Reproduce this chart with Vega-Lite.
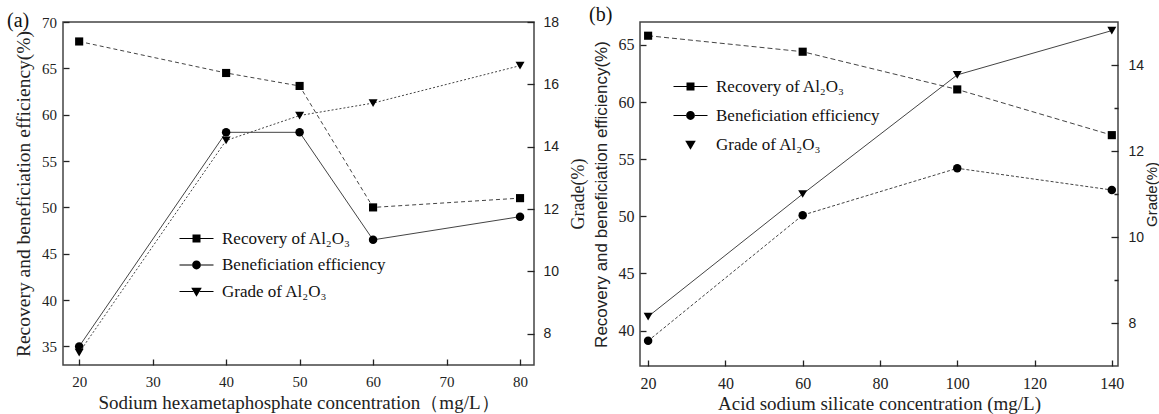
{
  "$schema": "https://vega.github.io/schema/vega-lite/v6.json",
  "padding": {"left": 6, "top": 4, "right": 0, "bottom": 0},
  "bounds": "flush",
  "spacing": 106,
  "config": {
    "font": "Liberation Serif",
    "view": {"stroke": "#444", "strokeWidth": 1.5},
    "axis": {"grid": false, "domain": false, "labelFont": "Liberation Serif", "labelColor": "#222", "titleFont": "Liberation Serif", "titleFontWeight": "normal", "titleColor": "#222", "tickColor": "#222", "tickWidth": 1.3, "labelOverlap": false, "labelFlush": false}
  },
  "resolve": {"scale": {"shape": "independent"}, "legend": {"shape": "independent"}},
  "hconcat": [
    {
      "width": 471, "height": 343,
      "title": {"text": "(a)", "anchor": "start", "frame": "group", "font": "Liberation Serif", "fontSize": 20, "fontWeight": "normal", "color": "#111", "dx": -56, "dy": 16, "offset": 0},
      "data": {"values": [
        {"conc": 20, "series": "Recovery of Al₂O₃", "value": 67.9},
        {"conc": 40, "series": "Recovery of Al₂O₃", "value": 64.5},
        {"conc": 50, "series": "Recovery of Al₂O₃", "value": 63.1},
        {"conc": 60, "series": "Recovery of Al₂O₃", "value": 50.0},
        {"conc": 80, "series": "Recovery of Al₂O₃", "value": 51.0},
        {"conc": 20, "series": "Beneficiation efficiency", "value": 35.0},
        {"conc": 40, "series": "Beneficiation efficiency", "value": 58.1},
        {"conc": 50, "series": "Beneficiation efficiency", "value": 58.1},
        {"conc": 60, "series": "Beneficiation efficiency", "value": 46.5},
        {"conc": 80, "series": "Beneficiation efficiency", "value": 49.0},
        {"conc": 20, "series": "Grade of Al₂O₃", "value": 7.4},
        {"conc": 40, "series": "Grade of Al₂O₃", "value": 14.2},
        {"conc": 50, "series": "Grade of Al₂O₃", "value": 15.0},
        {"conc": 60, "series": "Grade of Al₂O₃", "value": 15.4},
        {"conc": 80, "series": "Grade of Al₂O₃", "value": 16.6}
      ]},
      "resolve": {"scale": {"y": "independent"}},
      "layer": [
        {
          "layer": [
            {
              "transform": [{"filter": "datum.series === 'Recovery of Al₂O₃'"}],
              "mark": {"type": "line", "stroke": "#444", "strokeWidth": 1, "strokeDash": [4, 3]},
              "encoding": {
                "x": {"field": "conc", "type": "quantitative", "title": "Sodium hexametaphosphate concentration（mg/L）", "scale": {"domain": [17.8, 81.9], "nice": false, "zero": false},
                  "axis": {"values": [20, 25, 30, 35, 40, 45, 50, 55, 60, 65, 70, 75, 80], "labelExpr": "datum.value % 10 === 0 ? datum.label : ''", "offset": -6, "tickSize": 6, "tickDash": {"condition": {"test": "datum.value % 10 !== 0", "value": [0, 2, 4]}, "value": [10, 0]}, "labelPadding": 9, "labelFont": "Liberation Serif", "labelFontSize": 15, "titleFont": "Liberation Serif", "titleFontSize": 19, "titlePadding": 4}},
                "y": {"field": "value", "type": "quantitative", "title": "Recovery and beneficiation efficiency(%)", "scale": {"domain": [33, 70], "nice": false, "zero": false},
                  "axis": {"orient": "left", "values": [35, 37.5, 40, 42.5, 45, 47.5, 50, 52.5, 55, 57.5, 60, 62.5, 65, 67.5, 70], "labelExpr": "datum.value % 5 === 0 ? datum.label : ''", "offset": -6, "tickSize": 6, "tickDash": {"condition": {"test": "datum.value % 5 !== 0", "value": [0, 2, 4]}, "value": [10, 0]}, "labelPadding": 6.5, "labelFont": "Liberation Serif", "labelFontSize": 15, "titleFont": "Liberation Serif", "titleFontSize": 19.5, "titlePadding": 8}}
              }
            },
            {
              "transform": [{"filter": "datum.series === 'Beneficiation efficiency'"}],
              "mark": {"type": "line", "stroke": "#444", "strokeWidth": 1},
              "encoding": {
                "x": {"field": "conc", "type": "quantitative", "title": "Sodium hexametaphosphate concentration（mg/L）", "scale": {"domain": [17.8, 81.9], "nice": false, "zero": false}},
                "y": {"field": "value", "type": "quantitative", "title": "Recovery and beneficiation efficiency(%)", "scale": {"domain": [33, 70], "nice": false, "zero": false}}
              }
            },
            {
              "transform": [{"filter": "datum.series === 'Recovery of Al₂O₃'"}],
              "mark": {"type": "point", "shape": "square", "filled": true, "fill": "black", "opacity": 1, "size": 66},
              "encoding": {
                "x": {"field": "conc", "type": "quantitative", "title": "Sodium hexametaphosphate concentration（mg/L）", "scale": {"domain": [17.8, 81.9], "nice": false, "zero": false}},
                "y": {"field": "value", "type": "quantitative", "title": "Recovery and beneficiation efficiency(%)", "scale": {"domain": [33, 70], "nice": false, "zero": false}}
              }
            },
            {
              "transform": [{"filter": "datum.series === 'Beneficiation efficiency'"}],
              "mark": {"type": "point", "shape": "circle", "filled": true, "fill": "black", "opacity": 1, "size": 72},
              "encoding": {
                "x": {"field": "conc", "type": "quantitative", "title": "Sodium hexametaphosphate concentration（mg/L）", "scale": {"domain": [17.8, 81.9], "nice": false, "zero": false}},
                "y": {"field": "value", "type": "quantitative", "title": "Recovery and beneficiation efficiency(%)", "scale": {"domain": [33, 70], "nice": false, "zero": false}}
              }
            },
            {
              "transform": [{"filter": "datum.series !== 'Grade of Al₂O₃'"}],
              "mark": {"type": "point", "filled": true, "fill": "black", "opacity": 0, "size": 289},
              "encoding": {
                "x": {"field": "conc", "type": "quantitative", "title": "Sodium hexametaphosphate concentration（mg/L）", "scale": {"domain": [17.8, 81.9], "nice": false, "zero": false}},
                "y": {"field": "value", "type": "quantitative", "title": "Recovery and beneficiation efficiency(%)", "scale": {"domain": [33, 70], "nice": false, "zero": false}},
                "shape": {"field": "series", "type": "nominal",
                  "scale": {"domain": ["Recovery of Al₂O₃", "Beneficiation efficiency", "Grade of Al₂O₃"], "range": ["M-2,-0.06H-0.47V0.06H-2ZM0.47,-0.06H2V0.06H0.47ZM-0.47,-0.47H0.47V0.47H-0.47Z", "M-2,-0.06H-0.5V0.06H-2ZM0.5,-0.06H2V0.06H0.5ZM-0.52,0A0.52,0.52,0,1,0,0.52,0A0.52,0.52,0,1,0,-0.52,0Z", "M-2,-0.06H-0.38V0.06H-2ZM0.38,-0.06H2V0.06H0.38ZM-0.62,-0.45H0.62L0,0.62Z"]},
                  "legend": {"orient": "none", "legendX": 124, "legendY": 207, "title": null, "labelFont": "Liberation Serif", "labelFontSize": 17, "labelColor": "#111", "labelOffset": 16, "symbolSize": 289, "symbolOpacity": 1, "symbolFillColor": "black", "rowPadding": 8.5, "labelLimit": 400,
                    "encode": {"symbols": {"fill": {"value": "#111"}, "opacity": {"value": 1}}}}}
              }
            }
          ]
        },
        {
          "transform": [{"filter": "datum.series === 'Grade of Al₂O₃'"}],
          "layer": [
            {
              "mark": {"type": "line", "stroke": "#444", "strokeWidth": 1, "strokeDash": [2, 2]},
              "encoding": {
                "x": {"field": "conc", "type": "quantitative", "title": "Sodium hexametaphosphate concentration（mg/L）", "scale": {"domain": [17.8, 81.9], "nice": false, "zero": false}},
                "y": {"field": "value", "type": "quantitative", "title": "Grade(%)", "scale": {"domain": [7, 18], "nice": false, "zero": false},
                  "axis": {"orient": "right", "values": [8, 9, 10, 11, 12, 13, 14, 15, 16, 17, 18], "labelExpr": "datum.value % 2 === 0 ? datum.label : ''", "offset": -7, "tickSize": 7, "tickDash": {"condition": {"test": "datum.value % 2 !== 0", "value": [0, 3, 4]}, "value": [10, 0]}, "labelPadding": 9, "labelFont": "Liberation Sans", "labelFontSize": 14, "titleFont": "Liberation Serif", "titleFontSize": 18, "titlePadding": 11, "titleAngle": 270, "titleBaseline": "top"}}
              }
            },
            {
              "mark": {"type": "point", "shape": "triangle-down", "filled": true, "fill": "black", "opacity": 1, "size": 80},
              "encoding": {
                "x": {"field": "conc", "type": "quantitative", "title": "Sodium hexametaphosphate concentration（mg/L）", "scale": {"domain": [17.8, 81.9], "nice": false, "zero": false}},
                "y": {"field": "value", "type": "quantitative", "title": "Grade(%)", "scale": {"domain": [7, 18], "nice": false, "zero": false}}
              }
            }
          ]
        }
      ]
    },
    {
      "width": 478, "height": 344,
      "title": {"text": "(b)", "anchor": "start", "frame": "group", "font": "Liberation Serif", "fontSize": 20, "fontWeight": "normal", "color": "#111", "dx": -51, "dy": 3, "offset": 0},
      "data": {"values": [
        {"conc": 20, "series": "Recovery of Al₂O₃", "value": 65.8},
        {"conc": 60, "series": "Recovery of Al₂O₃", "value": 64.4},
        {"conc": 100, "series": "Recovery of Al₂O₃", "value": 61.1},
        {"conc": 140, "series": "Recovery of Al₂O₃", "value": 57.1},
        {"conc": 20, "series": "Beneficiation efficiency", "value": 39.1},
        {"conc": 60, "series": "Beneficiation efficiency", "value": 50.1},
        {"conc": 100, "series": "Beneficiation efficiency", "value": 54.2},
        {"conc": 140, "series": "Beneficiation efficiency", "value": 52.3},
        {"conc": 20, "series": "Grade of Al₂O₃", "value": 8.15},
        {"conc": 60, "series": "Grade of Al₂O₃", "value": 11.0},
        {"conc": 100, "series": "Grade of Al₂O₃", "value": 13.77},
        {"conc": 140, "series": "Grade of Al₂O₃", "value": 14.8}
      ]},
      "resolve": {"scale": {"y": "independent"}},
      "layer": [
        {
          "layer": [
            {
              "transform": [{"filter": "datum.series === 'Recovery of Al₂O₃'"}],
              "mark": {"type": "line", "stroke": "#444", "strokeWidth": 1, "strokeDash": [5, 3]},
              "encoding": {
                "x": {"field": "conc", "type": "quantitative", "title": "Acid sodium silicate concentration (mg/L)", "scale": {"domain": [17.9, 141.6], "nice": false, "zero": false},
                  "axis": {"values": [20, 30, 40, 50, 60, 70, 80, 90, 100, 110, 120, 130, 140], "labelExpr": "datum.value % 20 === 0 ? datum.label : ''", "offset": -6, "tickSize": 6, "tickDash": {"condition": {"test": "datum.value % 20 !== 0", "value": [0, 2, 4]}, "value": [10, 0]}, "labelPadding": 9, "labelFont": "Liberation Serif", "labelFontSize": 16, "titleFont": "Liberation Serif", "titleFontSize": 19, "titlePadding": 3}},
                "y": {"field": "value", "type": "quantitative", "title": "Recovery and beneficiation efficiency(%)", "scale": {"domain": [36.9, 67.0], "nice": false, "zero": false},
                  "axis": {"orient": "left", "values": [40, 42.5, 45, 47.5, 50, 52.5, 55, 57.5, 60, 62.5, 65], "labelExpr": "datum.value % 5 === 0 ? datum.label : ''", "offset": -6, "tickSize": 6, "tickDash": {"condition": {"test": "datum.value % 5 !== 0", "value": [0, 2, 4]}, "value": [10, 0]}, "labelPadding": 6, "labelFont": "Liberation Serif", "labelFontSize": 16, "titleFont": "Liberation Sans", "titleFontSize": 17, "titlePadding": 8}}
              }
            },
            {
              "transform": [{"filter": "datum.series === 'Beneficiation efficiency'"}],
              "mark": {"type": "line", "stroke": "#444", "strokeWidth": 1, "strokeDash": [3, 2]},
              "encoding": {
                "x": {"field": "conc", "type": "quantitative", "title": "Acid sodium silicate concentration (mg/L)", "scale": {"domain": [17.9, 141.6], "nice": false, "zero": false}},
                "y": {"field": "value", "type": "quantitative", "title": "Recovery and beneficiation efficiency(%)", "scale": {"domain": [36.9, 67.0], "nice": false, "zero": false}}
              }
            },
            {
              "transform": [{"filter": "datum.series === 'Recovery of Al₂O₃'"}],
              "mark": {"type": "point", "shape": "square", "filled": true, "fill": "black", "opacity": 1, "size": 66},
              "encoding": {
                "x": {"field": "conc", "type": "quantitative", "title": "Acid sodium silicate concentration (mg/L)", "scale": {"domain": [17.9, 141.6], "nice": false, "zero": false}},
                "y": {"field": "value", "type": "quantitative", "title": "Recovery and beneficiation efficiency(%)", "scale": {"domain": [36.9, 67.0], "nice": false, "zero": false}}
              }
            },
            {
              "transform": [{"filter": "datum.series === 'Beneficiation efficiency'"}],
              "mark": {"type": "point", "shape": "circle", "filled": true, "fill": "black", "opacity": 1, "size": 72},
              "encoding": {
                "x": {"field": "conc", "type": "quantitative", "title": "Acid sodium silicate concentration (mg/L)", "scale": {"domain": [17.9, 141.6], "nice": false, "zero": false}},
                "y": {"field": "value", "type": "quantitative", "title": "Recovery and beneficiation efficiency(%)", "scale": {"domain": [36.9, 67.0], "nice": false, "zero": false}}
              }
            },
            {
              "transform": [{"filter": "datum.series !== 'Grade of Al₂O₃'"}],
              "mark": {"type": "point", "filled": true, "fill": "black", "opacity": 0, "size": 289},
              "encoding": {
                "x": {"field": "conc", "type": "quantitative", "title": "Acid sodium silicate concentration (mg/L)", "scale": {"domain": [17.9, 141.6], "nice": false, "zero": false}},
                "y": {"field": "value", "type": "quantitative", "title": "Recovery and beneficiation efficiency(%)", "scale": {"domain": [36.9, 67.0], "nice": false, "zero": false}},
                "shape": {"field": "series", "type": "nominal",
                  "scale": {"domain": ["Recovery of Al₂O₃", "Beneficiation efficiency", "Grade of Al₂O₃"], "range": ["M-2,-0.06H-0.47V0.06H-2ZM0.47,-0.06H2V0.06H0.47ZM-0.47,-0.47H0.47V0.47H-0.47Z", "M-2,-0.06H-0.5V0.06H-2ZM0.5,-0.06H2V0.06H0.5ZM-0.52,0A0.52,0.52,0,1,0,0.52,0A0.52,0.52,0,1,0,-0.52,0Z", "M-0.62,-0.45H0.62L0,0.62Z"]},
                  "legend": {"orient": "none", "legendX": 41, "legendY": 55, "title": null, "labelFont": "Liberation Serif", "labelFontSize": 17, "labelColor": "#111", "labelOffset": 16, "symbolSize": 289, "symbolOpacity": 1, "symbolFillColor": "black", "rowPadding": 11, "labelLimit": 400,
                    "encode": {"symbols": {"fill": {"value": "#111"}, "opacity": {"value": 1}}}}}
              }
            }
          ]
        },
        {
          "transform": [{"filter": "datum.series === 'Grade of Al₂O₃'"}],
          "layer": [
            {
              "mark": {"type": "line", "stroke": "#444", "strokeWidth": 1},
              "encoding": {
                "x": {"field": "conc", "type": "quantitative", "title": "Acid sodium silicate concentration (mg/L)", "scale": {"domain": [17.9, 141.6], "nice": false, "zero": false}},
                "y": {"field": "value", "type": "quantitative", "title": "Grade(%)", "scale": {"domain": [7, 15], "nice": false, "zero": false},
                  "axis": {"orient": "right", "values": [8, 9, 10, 11, 12, 13, 14], "labelExpr": "datum.value % 2 === 0 ? datum.label : ''", "offset": -7, "tickSize": 7, "tickDash": {"condition": {"test": "datum.value % 2 !== 0", "value": [0, 3, 4]}, "value": [10, 0]}, "labelPadding": 10, "labelFont": "Liberation Sans", "labelFontSize": 14, "titleFont": "Liberation Sans", "titleFontSize": 15, "titlePadding": 1, "titleAngle": 270, "titleBaseline": "top"}}
              }
            },
            {
              "mark": {"type": "point", "shape": "triangle-down", "filled": true, "fill": "black", "opacity": 1, "size": 80},
              "encoding": {
                "x": {"field": "conc", "type": "quantitative", "title": "Acid sodium silicate concentration (mg/L)", "scale": {"domain": [17.9, 141.6], "nice": false, "zero": false}},
                "y": {"field": "value", "type": "quantitative", "title": "Grade(%)", "scale": {"domain": [7, 15], "nice": false, "zero": false}}
              }
            }
          ]
        }
      ]
    }
  ]
}
